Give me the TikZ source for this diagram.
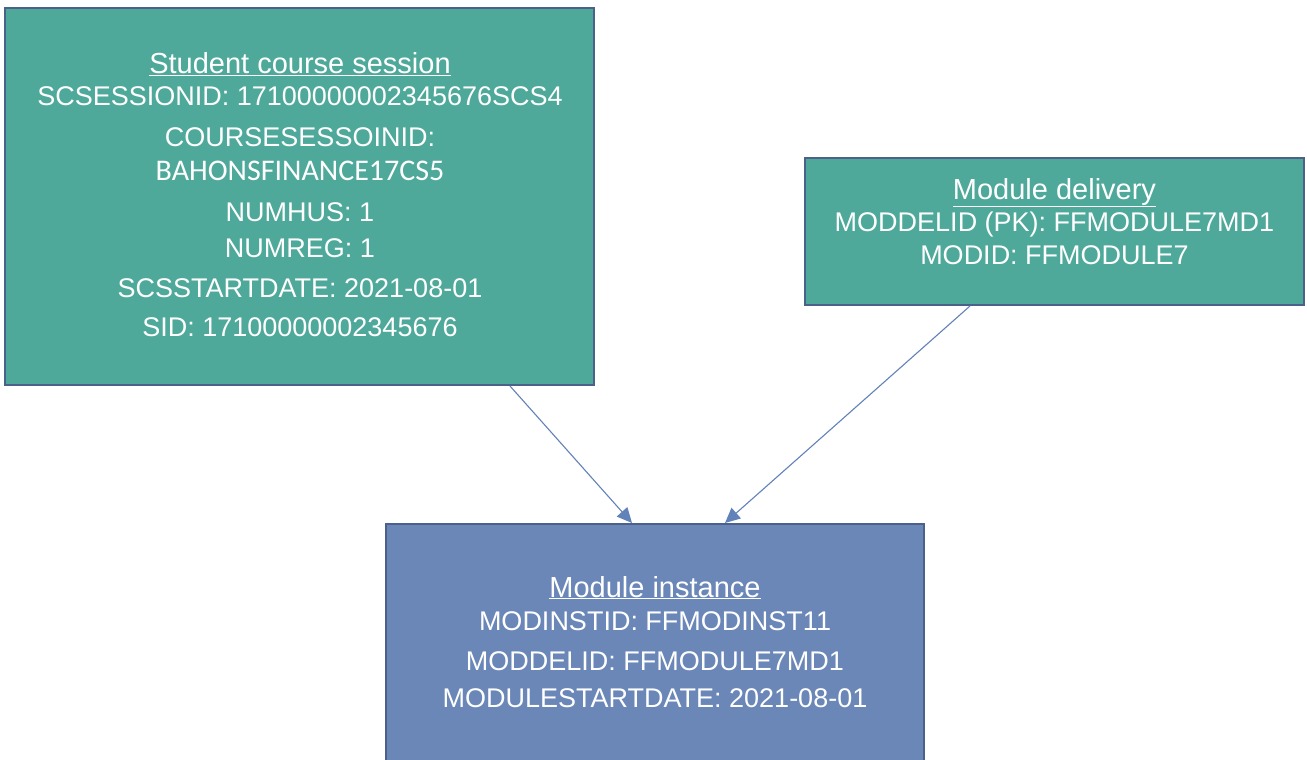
\documentclass[tikz,border=0pt]{standalone}
\usepackage{fontspec}
\setmainfont{Liberation Sans}
\newfontfamily\calfont{Carlito}
\usetikzlibrary{arrows.meta}
\definecolor{tealfill}{HTML}{4EA99A}
\definecolor{bluefill}{HTML}{6A87B8}
\definecolor{edgecol}{HTML}{4B6189}
\definecolor{arrowcol}{HTML}{6282BA}
\tikzset{
  entity/.style={draw=edgecol, line width=2pt, rectangle, inner sep=0pt},
  ttl/.style={text=white, anchor=base, font=\fontsize{29}{34}\selectfont, inner sep=0pt},
  fld/.style={text=white, anchor=base, font=\fontsize{27}{32}\selectfont, inner sep=0pt},
  link/.style={draw=arrowcol, line width=1.1pt, -{Triangle[length=15pt,width=14pt]}}
}
\begin{document}
\begin{tikzpicture}[x=1pt,y=-1pt]
\clip (0,0) rectangle (1307,760);
\fill[white] (0,0) rectangle (1307,760);
% boxes
\node[entity, fill=tealfill, minimum width=589pt, minimum height=377pt] (scs) at (299.5,196.5) {};
\node[entity, fill=tealfill, minimum width=499pt, minimum height=147pt] (md) at (1054.5,231.5) {};
\node[entity, fill=bluefill, minimum width=538pt, minimum height=280pt] (mi) at (655,664) {};
% Student course session text
\node[ttl] (scs0) at (300,74) {\underline{Student course session}};
\node[fld] (scs1) at (300,106) {SCSESSIONID: 17100000002345676SCS4};
\node[fld] (scs2) at (300,146) {COURSESESSOINID:};
\node[fld] (scs3) at (300,180) {\calfont\fontsize{30}{34}\selectfont BAHONSFINANCE17CS5};
\node[fld] (scs4) at (300,221) {NUMHUS: 1};
\node[fld] (scs5) at (300,257) {NUMREG: 1};
\node[fld] (scs6) at (300,297) {SCSSTARTDATE: 2021-08-01};
\node[fld] (scs7) at (300,336) {SID: 17100000002345676};
% Module delivery text
\node[ttl] (md0) at (1054.5,199) {\underline{Module delivery}};
\node[fld] (md1) at (1054.5,231) {MODDELID (PK): FFMODULE7MD1};
\node[fld] (md2) at (1054.5,264) {MODID: FFMODULE7};
% Module instance text
\node[ttl] (mi0) at (655,597) {\underline{Module instance}};
\node[fld] (mi1) at (655,630) {MODINSTID: FFMODINST11};
\node[fld] (mi2) at (655,670) {MODDELID: FFMODULE7MD1};
\node[fld] (mi3) at (655,707) {MODULESTARTDATE: 2021-08-01};
% connectors
\draw[link] ([xshift=506pt]scs.south west) -- ([xshift=247pt]mi.north west);
\draw[link] ([xshift=166pt]md.south west) -- ([xshift=340pt]mi.north west);
\end{tikzpicture}
\end{document}
